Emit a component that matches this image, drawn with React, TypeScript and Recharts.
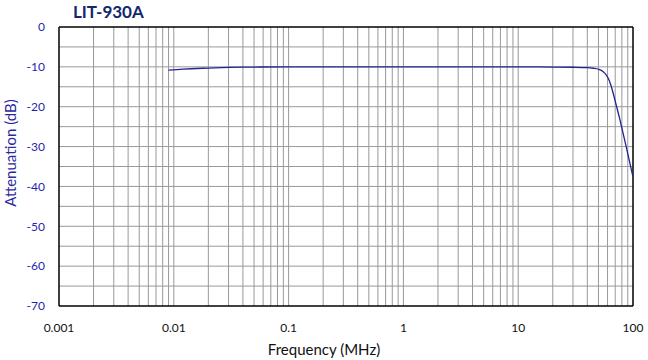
import React from "react";
import { LineChart, Line, XAxis, YAxis, ReferenceLine } from "recharts";

const freqMHz = [0.009, 0.012, 0.02, 0.03, 0.05, 0.1, 1, 10, 20, 30, 40, 45, 50, 55, 58, 61, 64, 67, 72, 77, 82, 88, 94, 100];
const attenuationDb = [-10.8, -10.55, -10.3, -10.15, -10.05, -10.0, -10.0, -10.0, -10.05, -10.1, -10.2, -10.35, -10.6, -11.2, -11.9, -12.9, -14.5, -16.5, -20, -23.3, -26.7, -30.5, -34.2, -37.6];

const xTicks = [0.001, 0.01, 0.1, 1, 10, 100];
const yTicks = [0, -10, -20, -30, -40, -50, -60, -70];
const decades = [0.001, 0.01, 0.1, 1, 10];
const multipliers = [1, 2, 3, 4, 5, 6, 7, 8, 9];
const yGrid = [-5, -10, -15, -20, -25, -30, -35, -40, -45, -50, -55, -60, -65];

const titleText = "LIT-930A";
const xLabel = "Frequency (MHz)";
const yLabel = "Attenuation (dB)";

const data = freqMHz.map((f, i) => ({ f, db: attenuationDb[i] }));
const xGrid: number[] = [];
decades.forEach((d) => multipliers.forEach((m) => { const v = +(d * m).toPrecision(3); if (v > 0.001) xGrid.push(v); }));

const FONT = "Lato, 'Open Sans', sans-serif";
const GRID = "#999999";

export default function App() {
  return (
    <div style={{ position: "absolute", left: 0, top: 0, width: 648, height: 360, background: "#fff", fontFamily: FONT }}>
      <LineChart width={648} height={360} data={data} margin={{ top: 27, right: 15, bottom: 0, left: 0 }}>
        <XAxis
          dataKey="f"
          type="number"
          scale="log"
          domain={[0.001, 100]}
          ticks={xTicks}
          allowDataOverflow
          height={54}
          tickLine={false}
          tickSize={0}
          tickMargin={17}
          axisLine={{ stroke: "#000", strokeWidth: 1.5 }}
          tick={{ fill: "#111", fontSize: 12, fontFamily: FONT }}
          tickFormatter={(v: number) => String(v)}
          interval={0}
        />
        <YAxis
          type="number"
          domain={[-70, 0]}
          ticks={yTicks}
          width={59}
          tickLine={false}
          tickSize={0}
          tickMargin={14}
          axisLine={{ stroke: "#000", strokeWidth: 1.5 }}
          tick={{ fill: "#1f1fb0", fontSize: 12, fontFamily: FONT }}
          interval={0}
        />
        {xGrid.map((v) => (
          <ReferenceLine key={"x" + v} x={v} stroke={GRID} strokeWidth={1} />
        ))}
        {yGrid.map((v) => (
          <ReferenceLine key={"y" + v} y={v} stroke={GRID} strokeWidth={1} />
        ))}
        <ReferenceLine y={0} stroke="#000" strokeWidth={1.5} />
        <ReferenceLine x={100} stroke="#000" strokeWidth={1.5} />
        <Line
          type="monotone"
          dataKey="db"
          stroke="#24248c"
          strokeWidth={1.3}
          dot={false}
          isAnimationActive={false}
        />
      </LineChart>
      <div style={{ position: "absolute", left: 73, top: 2, fontSize: 17, fontWeight: 700, color: "#14286a", fontFamily: FONT, lineHeight: "20px" }}>
        {titleText}
      </div>
      <div style={{ position: "absolute", left: 0, top: 340, width: 648, textAlign: "center", fontSize: 15, color: "#111", fontFamily: FONT, lineHeight: "18px" }}>
        {xLabel}
      </div>
      <div style={{ position: "absolute", left: 10, top: 153, width: 0, height: 0 }}>
        <div style={{ position: "absolute", left: 0, top: 0, transform: "translate(-50%, -50%) rotate(-90deg)", whiteSpace: "nowrap", fontSize: 15, color: "#2a2aa0", fontFamily: FONT, lineHeight: "18px" }}>
          {yLabel}
        </div>
      </div>
    </div>
  );
}
